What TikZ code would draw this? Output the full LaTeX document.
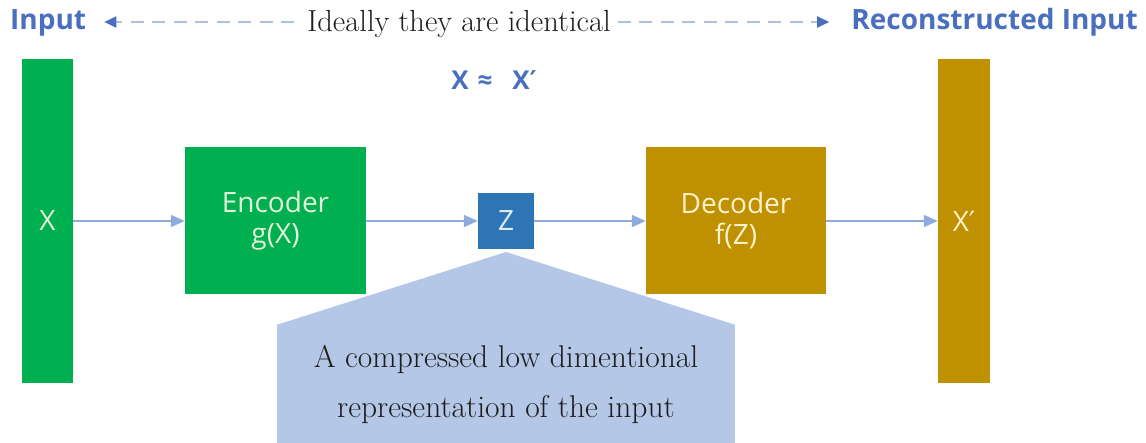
\documentclass[tikz,border=0pt]{standalone}
\usepackage{fontspec}
\newfontfamily\uisans{Open Sans}
\newfontfamily\dvsans{DejaVu Sans}
\usetikzlibrary{arrows.meta}
\definecolor{encgreen}{HTML}{00B050}
\definecolor{decgold}{HTML}{BF9000}
\definecolor{zblue}{HTML}{2E75B6}
\definecolor{calloutfill}{HTML}{B4C7E7}
\definecolor{linkblue}{HTML}{8FAADC}
\definecolor{dashblue}{HTML}{AFBFE0}
\definecolor{titleblue}{HTML}{4A6FBF}
\definecolor{lightgreen}{HTML}{E2F0D9}
\definecolor{lightgold}{HTML}{FFF2CC}
\definecolor{lightblue}{HTML}{DEEBF7}
\definecolor{notetext}{HTML}{1E1E1E}
\newcommand{\primemark}{{\dvsans ′}}
\begin{document}
\begin{tikzpicture}[x=1pt,y=-1pt,
  block/.style={inner sep=0pt, align=center, font=\uisans\fontsize{28}{31}\selectfont},
  titletext/.style={font=\uisans\bfseries\fontsize{28}{28}\selectfont, text=titleblue, text height=20pt, text depth=4pt},
  link/.style={draw=linkblue, line width=1.8pt, -{Triangle[length=14pt,width=12pt]}},
  dasharrow/.style={draw=dashblue, line width=2pt, dash pattern=on 13pt off 8.5pt,
    -{Triangle[length=12pt,width=11pt,color=titleblue]}}
]
\useasboundingbox (0,0) rectangle (1146,443);

% bars and blocks
\node[block, fill=encgreen, text=lightgreen, minimum width=51pt, minimum height=324pt] (xin) at (47.5,221) {X};
\node[block, fill=decgold, text=lightgold, minimum width=52pt, minimum height=324pt] (xout) at (964,221) {X\primemark};
\node[block, fill=encgreen, text=lightgreen, minimum width=181pt, minimum height=147pt] (enc) at (275.5,221) {Encoder\\g(X)};
\node[block, fill=decgold, text=lightgold, minimum width=180pt, minimum height=147pt] (dec) at (736,221) {Decoder\\f(Z)};
\node[block, fill=zblue, text=lightblue, minimum width=56pt, minimum height=56pt] (z) at (506,221) {Z};

% callout
\node[fill=calloutfill, text=notetext, align=center, inner sep=0pt,
      minimum width=458pt, minimum height=118pt,
      font=\fontsize{31.5}{50}\selectfont] (note) at (506,384)
  {A compressed low dimentional\\representation of the input};
\coordinate (apex) at (506,252);
\fill[calloutfill] (apex) -- (note.north east) -- (note.north west) -- cycle;

% connectors
\draw[link] (xin) -- (enc);
\draw[link] (enc) -- (z);
\draw[link] (z) -- (dec);
\draw[link] (dec) -- (xout);

% title row
\node[titletext, anchor=west, inner sep=0pt] (in) at (10,22) {Input};
\node[titletext, anchor=east, inner sep=0pt] (rec) at (1138,22) {Reconstructed Input};
\node[font=\fontsize{30.5}{30.5}\selectfont, text=notetext, text height=22pt, text depth=2pt, inner sep=0pt] (ideal) at (459,22) {Ideally they are identical};
\draw[dasharrow, shorten <=13pt, shorten >=18pt] (ideal.west) -- (in.east);
\draw[dasharrow, shorten <=7pt, shorten >=22pt] (ideal.east) -- (rec.west);

\node[font=\uisans\bfseries\fontsize{26}{26}\selectfont, text=titleblue] (approx) at (494,80) {X\hspace{9pt}≈\hspace{20pt}X\primemark};
\end{tikzpicture}
\end{document}
